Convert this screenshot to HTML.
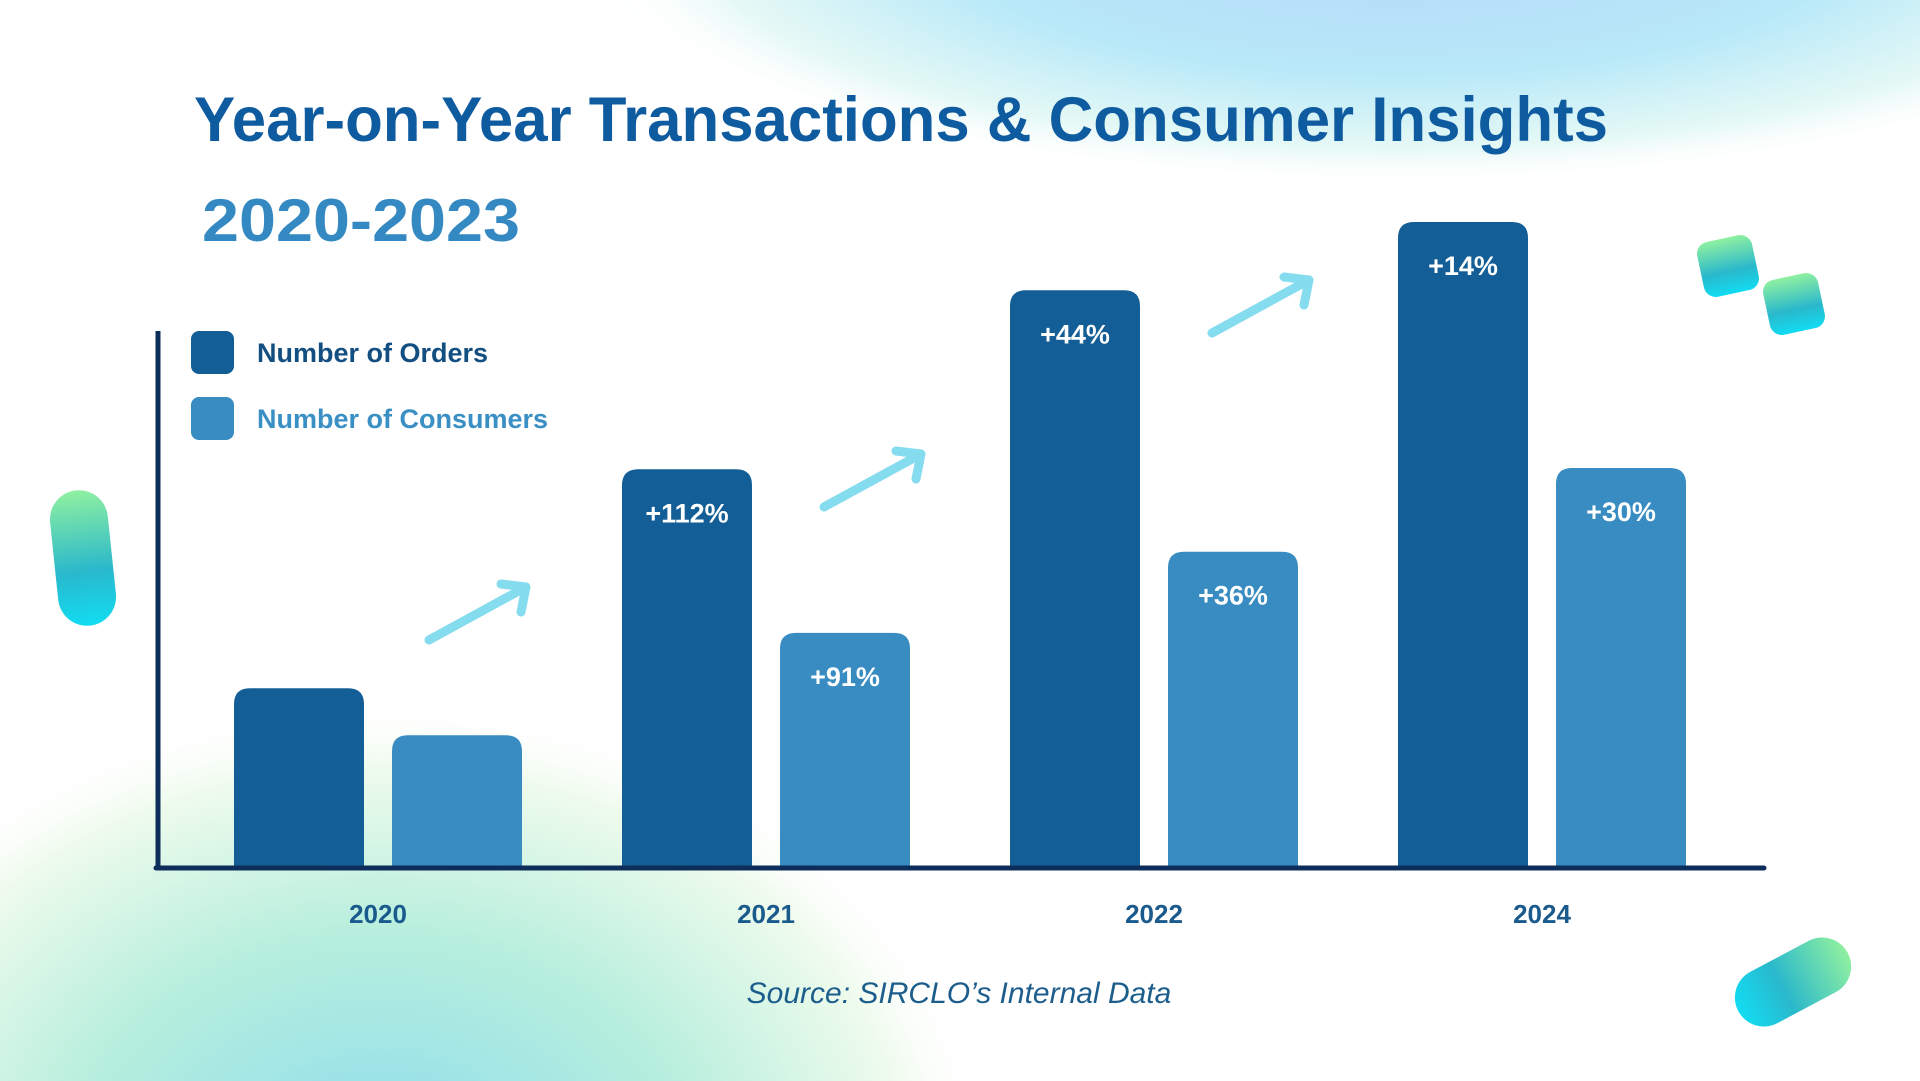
<!DOCTYPE html>
<html><head><meta charset="utf-8"><style>
html,body{margin:0;padding:0;background:#fff;width:1920px;height:1081px;overflow:hidden;position:relative}
svg{display:block;position:absolute;left:0;top:0}
text{font-family:"Liberation Sans",sans-serif}
</style></head><body>
<svg id="chart" width="1920" height="1081" viewBox="0 0 1920 1081" xmlns="http://www.w3.org/2000/svg" overflow="hidden">
<defs>
<radialGradient id="gTop" gradientUnits="userSpaceOnUse" cx="1400" cy="-60" r="820" gradientTransform="translate(1400,-60) scale(1,0.3) translate(-1400,60)">
<stop offset="0" stop-color="#b4d8fb"/><stop offset="0.55" stop-color="#b9e9f8"/><stop offset="0.85" stop-color="#e6f9f6"/><stop offset="1" stop-color="#ffffff" stop-opacity="0"/></radialGradient>
<radialGradient id="gBot" gradientUnits="userSpaceOnUse" cx="380" cy="1180" r="620" gradientTransform="translate(380,1180) scale(1,0.78) translate(-380,-1180)">
<stop offset="0" stop-color="#8adcef"/><stop offset="0.5" stop-color="#b6eedd"/><stop offset="0.85" stop-color="#eefbec"/><stop offset="1" stop-color="#ffffff" stop-opacity="0"/></radialGradient>
<linearGradient id="gPill" x1="0" y1="0" x2="0" y2="1">
<stop offset="0" stop-color="#8ff0a0"/><stop offset="0.6" stop-color="#2ab8cc"/><stop offset="1" stop-color="#12dcf2"/></linearGradient>
</defs>
<g>
<rect x="0" y="0" width="1920" height="280" fill="url(#gTop)"/>
<rect x="0" y="560" width="1100" height="521" fill="url(#gBot)"/>
<g transform="translate(83,558) rotate(-6)"><rect x="-29" y="-68" width="58" height="136" rx="29" fill="url(#gPill)"/></g>
<g transform="translate(1728,266) rotate(-12)"><rect x="-28" y="-28" width="56" height="56" rx="12" fill="url(#gPill)"/></g>
<g transform="translate(1794,304) rotate(-12)"><rect x="-28" y="-28" width="56" height="56" rx="12" fill="url(#gPill)"/></g>
<g transform="translate(1793,982) rotate(62)"><rect x="-29" y="-62" width="58" height="124" rx="29" fill="url(#gPill)"/></g>
</g>
<text x="194" y="141" font-size="63" font-weight="bold" fill="#0f5ba0" textLength="1414" lengthAdjust="spacingAndGlyphs">Year-on-Year Transactions &amp; Consumer Insights</text>
<text x="202" y="241" font-size="60" font-weight="bold" fill="#3489c2" textLength="318" lengthAdjust="spacingAndGlyphs">2020-2023</text>
<g>
<rect x="191" y="331" width="43" height="43" rx="8" fill="#135e96"/>
<text x="257" y="362" font-size="27" font-weight="bold" fill="#124e80">Number of Orders</text>
<rect x="191" y="397" width="43" height="43" rx="8" fill="#388cc1"/>
<text x="257" y="428" font-size="27" font-weight="bold" fill="#3a8fc5">Number of Consumers</text>
</g>
<g id="marks"></g>
<g stroke="#86dcef" stroke-width="9" fill="none" stroke-linecap="round" stroke-linejoin="round">
<path d="M429,640 L526,587 M501,584 L526,587 L521,612"/>
<path d="M824,507 L921,454 M896,451 L921,454 L916,479"/>
<path d="M1212,333 L1309,280 M1284,277 L1309,280 L1304,305"/>
</g>
<line x1="158" y1="331" x2="158" y2="868" stroke="#0d2d5a" stroke-width="5"/>
<line x1="156" y1="868" x2="1764" y2="868" stroke="#0d2d5a" stroke-width="5" stroke-linecap="round"/>
<text x="959" y="1003" font-size="30" font-style="italic" fill="#1c5d8c" text-anchor="middle">Source: SIRCLO’s Internal Data</text>
</svg>
<script>
const categories = ["2020", "2021", "2022", "2024"];
const ordersValues = [27.6, 61.6, 89.4, 100];
const consumersValues = [20.3, 36.2, 48.8, 61.8];
const ordersLabels = ["", "+112%", "+44%", "+14%"];
const consumersLabels = ["", "+91%", "+36%", "+30%"];

const NS = "http://www.w3.org/2000/svg";
const baseY = 866, plotH = 644;
const groupStart = 234, groupStep = 388, barW = 130, barGap = 158;
function yScale(v){ return baseY - v / 100 * plotH; }
function xScale(i, s){ return groupStart + i * groupStep + s * barGap; }
const g = document.getElementById('marks');
function mk(tag, attrs){ const e = document.createElementNS(NS, tag); for (const k in attrs) e.setAttribute(k, attrs[k]); return e; }
function barPath(x, y, w, h, r){
  return `M${x},${y+h} V${y+r} Q${x},${y} ${x+r},${y} H${x+w-r} Q${x+w},${y} ${x+w},${y+r} V${y+h} Z`;
}
const series = [
  {vals: ordersValues, labels: ordersLabels, color: "#135e96", name: "orders"},
  {vals: consumersValues, labels: consumersLabels, color: "#388cc1", name: "consumers"}
];
categories.forEach((c, i) => {
  series.forEach((s, si) => {
    const x = xScale(i, si), y = yScale(s.vals[i]);
    const p = mk('path', {d: barPath(x, y, barW, baseY - y, 16), fill: s.color});
    
    
    g.appendChild(p);
    if (s.labels[i]) {
      const t = mk('text', {x: x + barW / 2, y: y + 53, 'font-size': 27, 'font-weight': 'bold', fill: '#fff', 'text-anchor': 'middle'});
      t.textContent = s.labels[i];
      
      
      g.appendChild(t);
    }
  });
  const lx = xScale(i, 0) + (barGap + barW) / 2;
  const t = mk('text', {x: lx, y: 923, 'font-size': 26, 'font-weight': 'bold', fill: '#1a5a8c', 'text-anchor': 'middle'});
  t.textContent = c;
  
  
  g.appendChild(t);
});
</script>
</body></html>
